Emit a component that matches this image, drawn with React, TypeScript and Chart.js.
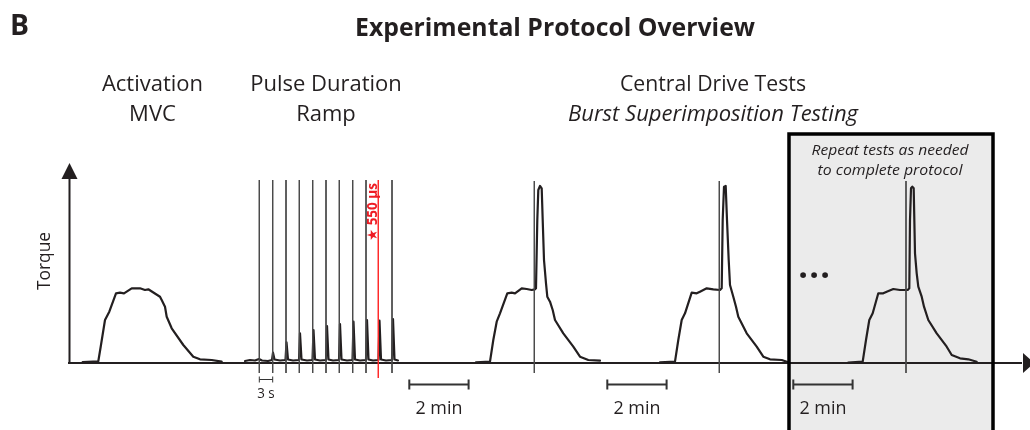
import React, { useEffect, useRef } from "react";
import { Chart, registerables } from "chart.js";

Chart.register(...registerables);

// ---- Data (time in schematic units, torque in schematic units) ----
const mvcTime = [82.7, 98.3, 100.7, 105, 109.3, 116, 120, 124, 131.7, 140, 145, 148.3, 160, 161.7, 165, 166.7, 171.7, 183.3, 193.3, 200, 211.7, 221.7];
const mvcTorque = [1, 1.7, 16.3, 43, 51.3, 69.7, 70.3, 69.7, 74.7, 74.7, 73, 73.7, 66.3, 63, 56.3, 46.3, 34.7, 18, 6.3, 3.7, 3, 1.3];

const rampTime = [245, 250, 255, 259, 262, 268, 272, 273, 274.5, 280, 285.5, 286.5, 288, 293, 299, 300, 301.5, 307, 312.5, 313.5, 315, 320, 326, 327, 328.5, 333, 339, 340, 341.5, 347, 352.5, 353.5, 355, 360, 366, 367, 368.5, 373, 378.5, 379.5, 381, 386, 392, 393, 394.5, 398];
const rampTorque = [2, 3, 2.5, 4, 2.5, 2, 3, 10.3, 3.5, 2.5, 3, 20.7, 3.5, 2.5, 3, 29.7, 3.5, 2.5, 3, 33, 3.5, 2.5, 3, 37, 3.5, 2.5, 3, 39, 3.5, 2.5, 3, 41.3, 3.5, 2.5, 3, 43, 3.5, 2.5, 3, 42.3, 3.5, 2.5, 3, 44, 3.5, 2.5];

const test1Time = [476, 490, 493.3, 496.7, 500, 507.3, 511.7, 515, 521.7, 526.7, 531.7, 535, 536, 537.3, 538.3, 540, 541.7, 542.7, 544, 546, 547.3, 550, 552.7, 555, 563.3, 573.3, 580, 588.3, 600];
const test1Torque = [0.7, 1.3, 23, 41.3, 49.7, 69.7, 70.3, 69.7, 74.7, 74, 73, 73.7, 74.7, 143, 173, 177, 174.7, 143, 103, 79.7, 66.3, 61.3, 53, 43, 29.7, 16.3, 6.3, 3, 2.3];

const test2Time = [660, 675, 678.3, 681.7, 685, 691.7, 696.7, 700, 706.7, 713.3, 720, 721.7, 722.7, 724, 725.7, 727, 728.7, 730, 733.3, 736, 738.3, 746.7, 756.7, 763.3, 770, 781.7, 788.3];
const test2Torque = [0.7, 1.3, 23, 43, 49.7, 70.3, 69.7, 71.3, 74.7, 73.7, 73, 74.7, 143, 176.3, 177, 143, 103, 78, 66.3, 56.3, 46.3, 29.7, 16.3, 6.3, 3.7, 3, 0.7];

const test3Time = [848.3, 862.7, 866, 869.3, 872.7, 878.3, 883.3, 886.7, 893.3, 900, 907.7, 909.3, 910, 911, 912.3, 913.7, 915, 916.7, 918.3, 921.7, 924, 928.3, 936.7, 946.7, 951.7, 960, 968.3, 976.7];
const test3Torque = [0.3, 1.3, 23, 43, 49.7, 69.7, 69.7, 71.3, 74, 73, 73, 74.7, 143, 174.7, 176.3, 174.7, 109.7, 89.7, 76.3, 66.3, 56.3, 43, 29.7, 16.3, 8, 4.7, 3.7, 1.3];

const rampStimTimes = [259.3, 272.7, 286, 299.3, 312.7, 326, 339.3, 352.7, 366, 392];
const selectedStimTime = 378.3;
const testStimTimes = [534.3, 719.3, 906];

const twoMinBarStarts = [409.3, 607.3, 793.3];
const twoMinLength = 59.3;
const threeSecStart = 259.3;
const threeSecLength = 13.4;

const repeatBoxStart = 789;
const repeatBoxEnd = 993;
const repeatBoxTop = 229;

const titleText = "Experimental Protocol Overview";
const panelLetter = "B";
const phaseLabels = [
  { lines: ["Activation", "MVC"], center: 152.5 },
  { lines: ["Pulse Duration", "Ramp"], center: 326 },
];
const centralLabel = "Central Drive Tests";
const centralSubLabel = "Burst Superimposition Testing";
const repeatLines = ["Repeat tests as needed", "to complete protocol"];
const stimLabel = "\u2605 550 \u00b5s";
const yAxisLabel = "Torque";
const twoMinLabel = "2 min";
const threeSecLabel = "3 s";

const INK = "#231f20";
const RED = "#ee1c24";
const FONT = "'Open Sans', 'DejaVu Sans', sans-serif";

const pairs = (xs: number[], ys: number[]) => xs.map((x, i) => ({ x, y: ys[i] }));
const vlines = (ts: number[], top: number, bottom: number) =>
  ts.flatMap((t) => [
    { x: t, y: top },
    { x: t, y: bottom },
    { x: t, y: null as any },
  ]);

function fitText(
  ctx: CanvasRenderingContext2D,
  text: string,
  x: number,
  y: number,
  font: string,
  width: number | null,
  color: string,
  align: CanvasTextAlign = "center",
  rotate = 0,
  baseline: CanvasTextBaseline = "alphabetic"
) {
  ctx.save();
  ctx.font = font;
  ctx.fillStyle = color;
  ctx.textAlign = align;
  ctx.textBaseline = baseline;
  ctx.translate(x, y);
  if (rotate) ctx.rotate(rotate);
  if (width) {
    const w = ctx.measureText(text).width;
    const s = Math.max(0.75, Math.min(1.25, width / w));
    ctx.scale(s, 1);
  }
  ctx.fillText(text, 0, 0);
  ctx.restore();
}

const decorPlugin = {
  id: "decor",
  beforeDatasetsDraw(chart: any) {
    const ctx: CanvasRenderingContext2D = chart.ctx;
    const xs = chart.scales.x;
    const ys = chart.scales.y;
    // repeat box fill
    const bx0 = xs.getPixelForValue(repeatBoxStart);
    const bx1 = xs.getPixelForValue(repeatBoxEnd);
    const by0 = ys.getPixelForValue(repeatBoxTop);
    ctx.save();
    ctx.fillStyle = "#ebebeb";
    ctx.fillRect(bx0, by0, bx1 - bx0, chart.height - by0 + 10);
    ctx.restore();

    // axes
    const y0 = ys.getPixelForValue(0);
    const xLeft = chart.chartArea.left;
    ctx.save();
    ctx.strokeStyle = INK;
    ctx.fillStyle = INK;
    ctx.lineWidth = 2;
    ctx.beginPath();
    ctx.moveTo(xLeft + 0.5, y0 + 1);
    ctx.lineTo(xLeft + 0.5, ys.getPixelForValue(185));
    ctx.moveTo(xLeft - 1, y0);
    ctx.lineTo(chart.width - 8, y0);
    ctx.stroke();
    // y arrow
    const ty = ys.getPixelForValue(200);
    ctx.beginPath();
    ctx.moveTo(xLeft + 0.5, ty);
    ctx.lineTo(xLeft - 7.5, ty + 16);
    ctx.lineTo(xLeft + 8.5, ty + 16);
    ctx.closePath();
    ctx.fill();
    // x arrow
    const ax = chart.width - 7;
    ctx.beginPath();
    ctx.moveTo(ax, y0 - 10);
    ctx.lineTo(ax, y0 + 10);
    ctx.lineTo(ax + 11, y0);
    ctx.closePath();
    ctx.fill();
    ctx.restore();

    // scale bars
    const barY = y0 + 21.5;
    ctx.save();
    ctx.strokeStyle = "#333";
    ctx.lineWidth = 2;
    twoMinBarStarts.forEach((s) => {
      const a = xs.getPixelForValue(s);
      const b = xs.getPixelForValue(s + twoMinLength);
      ctx.beginPath();
      ctx.moveTo(a, barY);
      ctx.lineTo(b, barY);
      ctx.moveTo(a, barY - 5);
      ctx.lineTo(a, barY + 5);
      ctx.moveTo(b, barY - 5);
      ctx.lineTo(b, barY + 5);
      ctx.stroke();
    });
    const sa = xs.getPixelForValue(threeSecStart);
    const sb = xs.getPixelForValue(threeSecStart + threeSecLength);
    const sy = y0 + 16.5;
    ctx.lineWidth = 1;
    ctx.beginPath();
    ctx.moveTo(sa, sy);
    ctx.lineTo(sb, sy);
    ctx.moveTo(sa, sy - 3);
    ctx.lineTo(sa, sy + 3);
    ctx.moveTo(sb, sy - 3);
    ctx.lineTo(sb, sy + 3);
    ctx.stroke();
    ctx.restore();
  },
  afterDatasetsDraw(chart: any) {
    const ctx: CanvasRenderingContext2D = chart.ctx;
    const xs = chart.scales.x;
    const ys = chart.scales.y;
    const bx0 = xs.getPixelForValue(repeatBoxStart);
    const bx1 = xs.getPixelForValue(repeatBoxEnd);
    const by0 = ys.getPixelForValue(repeatBoxTop);
    ctx.save();
    ctx.strokeStyle = "#000";
    ctx.lineWidth = 3.5;
    ctx.strokeRect(bx0, by0, bx1 - bx0, chart.height - by0 + 20);
    ctx.restore();
  },
  afterDraw(chart: any) {
    const ctx: CanvasRenderingContext2D = chart.ctx;
    const xs = chart.scales.x;
    const ys = chart.scales.y;
    const y0 = ys.getPixelForValue(0);

    fitText(ctx, panelLetter, 10, 35, `bold 29px ${FONT}`, 19, INK, "left");
    fitText(ctx, titleText, 555, 36, `bold 25px ${FONT}`, 400, INK);

    phaseLabels.forEach((p) => {
      fitText(ctx, p.lines[0], p.center, 91, `22px ${FONT}`, null, INK);
      fitText(ctx, p.lines[1], p.center, 121, `22px ${FONT}`, null, INK);
    });
    fitText(ctx, centralLabel, 713, 91, `22px ${FONT}`, 186, INK);
    fitText(ctx, centralSubLabel, 713, 121, `italic 22px ${FONT}`, 290, INK);

    const bc = (xs.getPixelForValue(repeatBoxStart) + xs.getPixelForValue(repeatBoxEnd)) / 2 - 1;
    fitText(ctx, repeatLines[0], bc, 155, `italic 15px ${FONT}`, 157, INK);
    fitText(ctx, repeatLines[1], bc, 175, `italic 15px ${FONT}`, 145, INK);

    // ellipsis
    ctx.save();
    ctx.font = `bold 34px ${FONT}`;
    ctx.fillStyle = INK;
    ctx.textAlign = "center";
    [803, 814, 825].forEach((x) => ctx.fillText(".", x, 278));
    ctx.restore();

    fitText(ctx, yAxisLabel, 45, 261, `18px ${FONT}`, 58, INK, "center", -Math.PI / 2, "middle");

    const sx = xs.getPixelForValue(selectedStimTime) - 5.5;
    fitText(ctx, stimLabel, sx, 212, `bold 14px ${FONT}`, 58, RED, "center", -Math.PI / 2, "middle");

    twoMinBarStarts.forEach((s) => {
      const c = xs.getPixelForValue(s + twoMinLength / 2);
      fitText(ctx, twoMinLabel, c, y0 + 51, `18px ${FONT}`, 47, INK);
    });
    fitText(ctx, threeSecLabel, xs.getPixelForValue(threeSecStart + threeSecLength / 2), y0 + 35, `14px ${FONT}`, 17.5, INK);
  },
};

export default function App() {
  const ref = useRef<HTMLCanvasElement>(null);
  useEffect(() => {
    if (!ref.current) return;
    const traceStyle = {
      borderColor: INK,
      borderWidth: 2.2,
      pointRadius: 0,
      tension: 0,
      borderJoinStyle: "round" as const,
      borderCapStyle: "round" as const,
      clip: false as any,
      spanGaps: false,
    };
    const stimStyle = {
      borderWidth: 1,
      pointRadius: 0,
      tension: 0,
      clip: false as any,
      spanGaps: false,
    };
    const chart = new Chart(ref.current, {
      type: "line",
      data: {
        datasets: [
          { ...stimStyle, label: "ramp stimuli", data: vlines(rampStimTimes, 183, -10), borderColor: "#4a4a4a" },
          { ...stimStyle, label: "test stimuli", data: vlines(testStimTimes, 182, -10), borderColor: "#4a4a4a" },
          { ...stimStyle, label: "550 µs", data: vlines([selectedStimTime], 183, -15), borderColor: "#ff2a2a" },
          { ...traceStyle, label: "MVC", data: pairs(mvcTime, mvcTorque) },
          { ...traceStyle, label: "Ramp", data: pairs(rampTime, rampTorque) },
          { ...traceStyle, label: "Test 1", data: pairs(test1Time, test1Torque) },
          { ...traceStyle, label: "Test 2", data: pairs(test2Time, test2Torque) },
          { ...traceStyle, label: "Test 3", data: pairs(test3Time, test3Torque) },
        ] as any,
      },
      options: {
        animation: false,
        responsive: false,
        maintainAspectRatio: false,
        layout: { padding: { left: 69, top: 175, right: 10, bottom: 67 } },
        plugins: { legend: { display: false }, title: { display: false }, tooltip: { enabled: false } },
        events: [],
        scales: {
          x: { type: "linear", min: 69, max: 1020, display: false },
          y: { type: "linear", min: 0, max: 188, display: false },
        },
      },
      plugins: [decorPlugin],
    });
    return () => chart.destroy();
  }, []);
  return (
    <div style={{ position: "absolute", left: 0, top: 0, width: 1030, height: 430, background: "#fff" }}>
      <canvas ref={ref} width={1030} height={430} style={{ display: "block", width: 1030, height: 430 }} />
    </div>
  );
}
